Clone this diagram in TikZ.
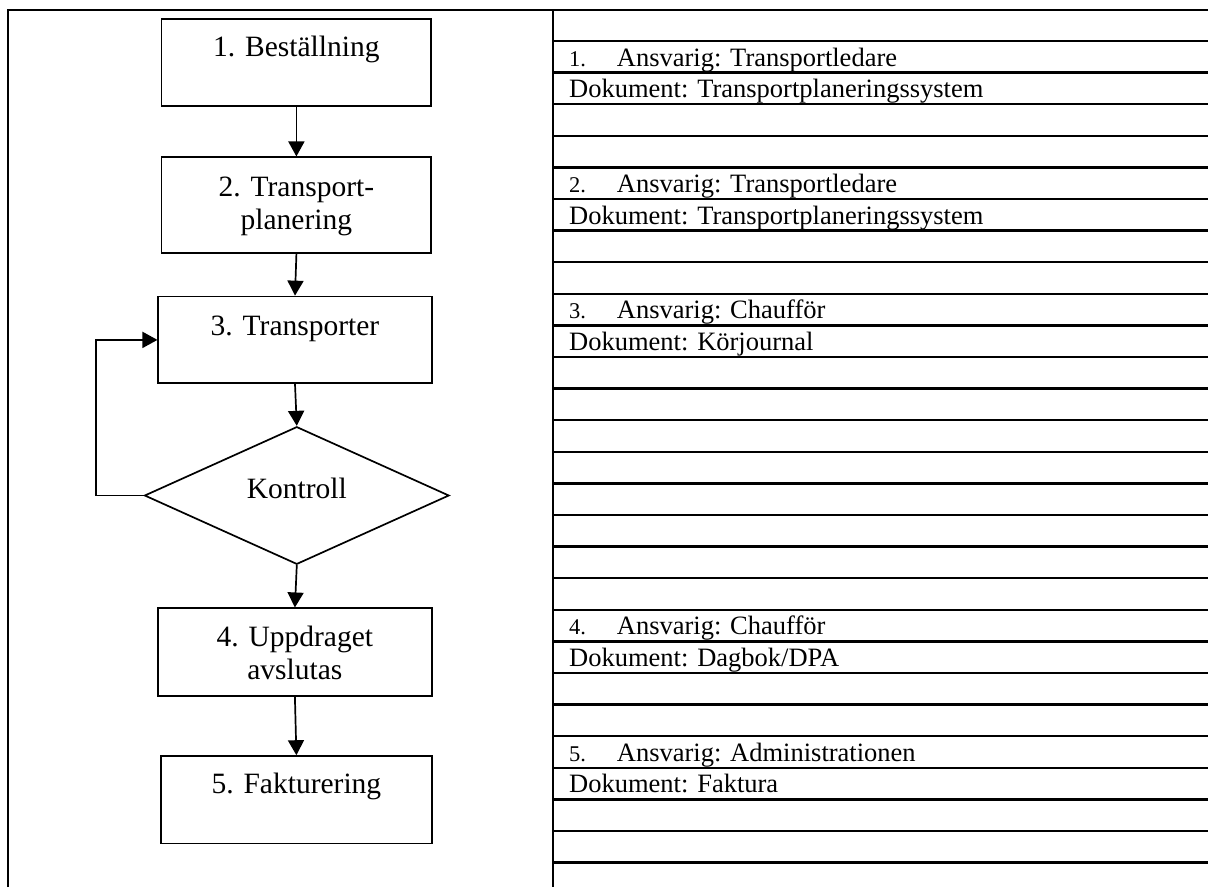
\documentclass[tikz,border=0pt]{standalone}
\usepackage{fontspec}
\setmainfont{Liberation Serif}
\usetikzlibrary{shapes.geometric,arrows.meta}
\tikzset{
	stepbox/.style = {draw, line width = 1.7pt, inner sep = 0pt},
	decision/.style = {draw, diamond, line width = 1.7pt, inner sep = 0pt},
	boxtext/.style = {anchor = base, inner sep = 0pt, font = \fontsize{29.5}{33}\selectfont},
	rowtext/.style = {anchor = base west, inner sep = 0pt, font = \fontsize{26.5}{30}\selectfont},
	rownum/.style = {anchor = base west, inner sep = 0pt, font = \fontsize{22.5}{26}\selectfont},
	flow/.style = {-{Triangle[length = 15pt, width = 16pt]}, line width = 1.7pt},
	rowline/.style = {line width = 2.4pt}
}
\begin{document}
\begin{tikzpicture}[x = 1pt, y = -1pt]
	\useasboundingbox (0,0) rectangle (1208,887);
	\draw[line width = 2pt] (8,887) -- (8,10) -- (1208,10);
	\draw[line width = 2.2pt] (553,10) -- (553,887);
	\foreach \k in {0,...,26}
		\draw[rowline] (553,{41+31.6*\k}) -- (1208,{41+31.6*\k});
	\node[stepbox, minimum width = 269.8pt, minimum height = 86.7pt] (bestall) at (296.4,62.65) {};
	\node[stepbox, minimum width = 269.8pt, minimum height = 96pt] (plan) at (296.4,205.3) {};
	\node[stepbox, minimum width = 273.4pt, minimum height = 86.8pt] (transp) at (295,339.9) {};
	\node[decision, minimum width = 304.6pt, minimum height = 137.6pt] (kontroll) at (296.8,495.5) {};
	\node[stepbox, minimum width = 273.7pt, minimum height = 87.4pt] (avslut) at (294.9,652) {};
	\node[stepbox, minimum width = 270.7pt, minimum height = 87.3pt] (faktura) at (296.4,799.7) {};
	\node[boxtext] (bestalltxt) at (296.4,56.7) {1. Beställning};
	\node[boxtext] (plantxt) at (296.4,196) {\begin{tabular}[t]{@{}c@{}}2. Transport-\\planering\end{tabular}};
	\node[boxtext] (transptxt) at (295,335) {3. Transporter};
	\node[boxtext] (kontrolltxt) at (296.8,498.3) {Kontroll};
	\node[boxtext] (avsluttxt) at (294.9,646.7) {\begin{tabular}[t]{@{}c@{}}4. Uppdraget\\avslutas\end{tabular}};
	\node[boxtext] (fakturatxt) at (296.4,793.3) {5. Fakturering};
	\coordinate (retur) at (96,495.5);
	\draw[flow] (bestall.south) -- (plan.north);
	\draw[flow] (plan.south) -- (transp.north);
	\draw[flow] (transp.south) -- (kontroll.north);
	\draw[flow] (kontroll.south) -- (avslut.north);
	\draw[flow] (avslut.south) -- (faktura.north);
	\draw[flow] (kontroll.west) -- (retur) |- (transp.west);
	\node[rownum] (num1) at (569,66.1) {1.};
	\node[rowtext] (ans1) at (616.7,66.1) {Ansvarig: Transportledare};
	\node[rowtext] (dok1) at (569,97.7) {Dokument: Transportplaneringssystem};
	\node[rownum] (num2) at (569,192.5) {2.};
	\node[rowtext] (ans2) at (616.7,192.5) {Ansvarig: Transportledare};
	\node[rowtext] (dok2) at (569,224.1) {Dokument: Transportplaneringssystem};
	\node[rownum] (num3) at (569,318.9) {3.};
	\node[rowtext] (ans3) at (616.7,318.9) {Ansvarig: Chaufför};
	\node[rowtext] (dok3) at (569,350.5) {Dokument: Körjournal};
	\node[rownum] (num4) at (569,634.9) {4.};
	\node[rowtext] (ans4) at (616.7,634.9) {Ansvarig: Chaufför};
	\node[rowtext] (dok4) at (569,666.5) {Dokument: Dagbok/DPA};
	\node[rownum] (num5) at (569,761.3) {5.};
	\node[rowtext] (ans5) at (616.7,761.3) {Ansvarig: Administrationen};
	\node[rowtext] (dok5) at (569,792.9) {Dokument: Faktura};
\end{tikzpicture}
\end{document}
